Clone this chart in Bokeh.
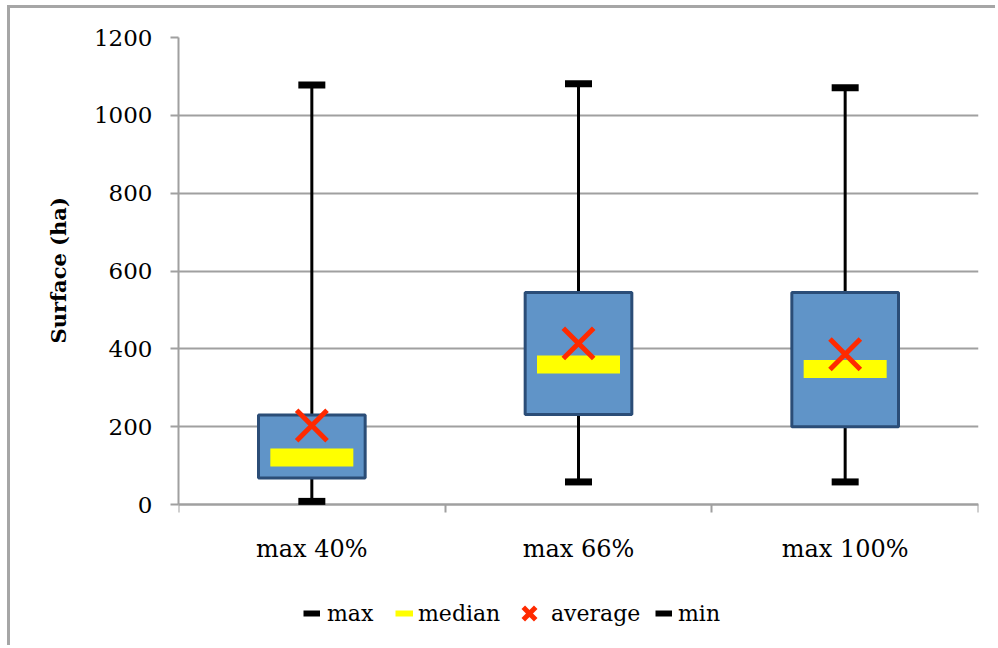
from bokeh.plotting import figure
from bokeh.models import (ColumnDataSource, FixedTicker, Legend, LegendItem, Range1d, Title)
from bokeh.embed import file_html
from bokeh.resources import INLINE

categories = ["max 40%", "max 66%", "max 100%"]
max_vals = [1078, 1081, 1071]
q3_vals = [230, 545, 545]
median_vals = [121, 360, 348]
q1_vals = [68, 231, 200]
min_vals = [8, 58, 58]
avg_vals = [203, 414, 386]
y_ticks = [0, 200, 400, 600, 800, 1000, 1200]

xs = [i + 0.5 for i in range(len(categories))]
bounds = list(range(len(categories) + 1))

src = ColumnDataSource(dict(x=xs, cat=categories, mx=max_vals, q3=q3_vals,
                            med=median_vals, q1=q1_vals, mn=min_vals, avg=avg_vals))

FONT = "DejaVu Serif"
GRID = "#A0A0A0"

# frame runs to the bottom of the page so the legend can sit inside it;
# the value axis itself is bounded to 0..1200
FRAME_H = 611
PLOT_H = 467
y_low = y_ticks[-1] - (y_ticks[-1] - y_ticks[0]) * FRAME_H / PLOT_H

p = figure(width=988, height=640, x_range=Range1d(0, len(categories)),
           y_range=Range1d(y_low, y_ticks[-1]),
           output_backend="svg", toolbar_location=None,
           min_border_left=168, min_border_right=20, min_border_top=29,
           min_border_bottom=0)
p.styles = {"border-left": "3px solid #A6A6A6", "border-top": "3px solid #A6A6A6",
            "margin-left": "7px", "margin-top": "5px"}
p.outline_line_color = None
p.background_fill_color = "white"
p.border_fill_color = "white"

p.xgrid.visible = False
p.ygrid.grid_line_color = GRID
p.ygrid.grid_line_width = 2

# value axis
p.yaxis.ticker = FixedTicker(ticks=y_ticks)
p.yaxis.bounds = (y_ticks[0], y_ticks[-1])
p.yaxis.axis_line_color = GRID
p.yaxis.axis_line_width = 2
p.yaxis.major_tick_line_color = GRID
p.yaxis.major_tick_line_width = 2
p.yaxis.major_tick_out = 8
p.yaxis.major_tick_in = 0
p.yaxis.minor_tick_out = 0
p.yaxis.minor_tick_in = 0
p.yaxis.major_label_standoff = 18
p.yaxis.major_label_text_font = FONT
p.yaxis.major_label_text_font_size = "23px"
p.yaxis.major_label_text_color = "black"

ylab = Title(text="Surface (ha)", align="left", offset=305, vertical_align="bottom",
             standoff=40, text_font=FONT, text_font_style="bold",
             text_font_size="21px", text_color="black")
p.add_layout(ylab, "left")

# category axis, fixed at y = 0
p.xaxis.fixed_location = 0
p.xaxis.ticker = FixedTicker(ticks=xs, minor_ticks=bounds)
p.xaxis.major_label_overrides = {x: c for x, c in zip(xs, categories)}
p.xaxis.axis_line_color = GRID
p.xaxis.axis_line_width = 2
p.xaxis.major_tick_out = 0
p.xaxis.major_tick_in = 0
p.xaxis.minor_tick_out = 8
p.xaxis.minor_tick_in = 0
p.xaxis.minor_tick_line_color = GRID
p.xaxis.minor_tick_line_width = 2
p.xaxis.major_label_standoff = 22
p.xaxis.major_label_text_font = FONT
p.xaxis.major_label_text_font_size = "24px"
p.xaxis.major_label_text_color = "black"

# whiskers
p.segment(x0="x", y0="mn", x1="x", y1="mx", source=src, line_color="black", line_width=3)
# boxes
p.vbar(x="x", width=0.4, bottom="q1", top="q3", source=src,
       fill_color="#6094C8", line_color="#2B4D77", line_width=3)
# median bar
p.rect(x="x", y="med", width=83, width_units="screen", height=18, height_units="screen",
       source=src, fill_color="#FFFF00", line_color=None)
# caps
p.scatter(x="x", y="mx", source=src, marker="dash", size=27,
          line_color="black", line_width=7)
r_min = p.scatter(x="x", y="mn", source=src, marker="dash", size=27,
                  line_color="black", line_width=7)
r_min.level = "overlay"
# average
r_avg = p.scatter(x="x", y="avg", source=src, marker="x", size=43,
                  line_color="#FF2A00", line_width=5)

# legend keys: zero-length segments (nothing drawn in the plot), drawn as dashes in the legend
k_max = p.segment(x0="x", y0="mx", x1="x", y1="mx", source=src, line_color="black", line_width=6)
k_med = p.segment(x0="x", y0="med", x1="x", y1="med", source=src, line_color="#FFFF00", line_width=6)
k_min = p.segment(x0="x", y0="mn", x1="x", y1="mn", source=src, line_color="black", line_width=6)


def make_legend(label, renderer, x, gw, standoff):
    lg = Legend(items=[LegendItem(label=label, renderers=[renderer])],
                orientation="horizontal", location=(x, 13),
                glyph_width=gw, glyph_height=44, label_standoff=standoff,
                padding=0, margin=0, border_line_color=None,
                background_fill_alpha=0,
                label_text_font=FONT, label_text_font_size="22px",
                label_text_color="black")
    p.add_layout(lg)


make_legend("max", k_max, 125, 17, 7)
make_legend("median", k_med, 217, 18, 5)
make_legend("average", r_avg, 329, 44, 0)
make_legend("min", k_min, 477, 17, 6)

open("out.html", "w").write(file_html(p, INLINE))
